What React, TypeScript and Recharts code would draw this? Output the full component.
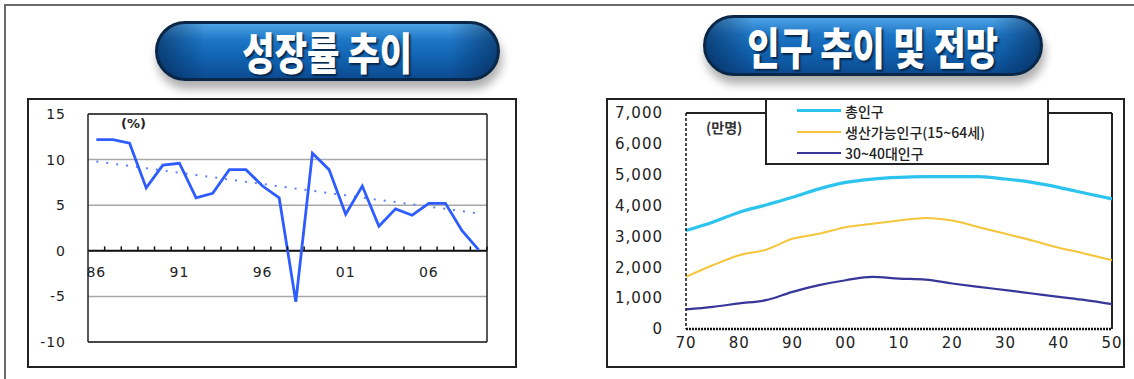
import React from "react";
import {
  LineChart,
  Line,
  XAxis,
  YAxis,
  CartesianGrid,
  ReferenceLine,
} from "recharts";

// 경제성장률 (%), 1986~2009
const growthYears = [
  "86", "87", "88", "89", "90", "91", "92", "93", "94", "95", "96", "97",
  "98", "99", "00", "01", "02", "03", "04", "05", "06", "07", "08", "09",
];
const growthRate = [
  12.2, 12.2, 11.8, 6.9, 9.4, 9.6, 5.8, 6.3, 8.9, 8.9, 7.1, 5.8,
  -5.6, 10.7, 8.9, 4.0, 7.1, 2.7, 4.6, 3.9, 5.2, 5.2, 2.2, 0.1,
];
const growthYearLabels = ["86", "91", "96", "01", "06"];
const growthTicks = [-10, -5, 0, 5, 10, 15];
// 추세선 시작/끝 값
const trendEnds = [9.8, 4.1];

// 인구 추이 및 전망 (만명), 5년 간격
const popYears = [
  1970, 1975, 1980, 1985, 1990, 1995, 2000, 2005, 2010,
  2015, 2020, 2025, 2030, 2035, 2040, 2045, 2050,
];
const totalPop = [
  3190, 3460, 3785, 4020, 4270, 4540, 4750, 4860, 4915,
  4935, 4935, 4935, 4860, 4750, 4590, 4400, 4215,
];
const workingPop = [
  1690, 2065, 2390, 2570, 2925, 3085, 3300, 3410, 3515,
  3600, 3515, 3300, 3085, 2870, 2635, 2440, 2225,
];
const prime3040Pop = [
  635, 720, 830, 935, 1205, 1420, 1580, 1690, 1635,
  1600, 1475, 1365, 1260, 1150, 1040, 935, 805,
];
const popYearTicks = [1970, 1980, 1990, 2000, 2010, 2020, 2030, 2040, 2050];
const popTicks = [0, 1000, 2000, 3000, 4000, 5000, 6000, 7000];

const popSeries = [
  { key: "total", name: "총인구", color: "#2cc3ee", width: 3.2 },
  { key: "working", name: "생산가능인구(15~64세)", color: "#f5c53c", width: 2 },
  { key: "prime", name: "30~40대인구", color: "#37379a", width: 2.2 },
];

const growthData = growthYears.map((y, i) => ({ year: y, rate: growthRate[i] }));
const popData = popYears.map((y, i) => ({
  year: y,
  total: totalPop[i],
  working: workingPop[i],
  prime: prime3040Pop[i],
}));

const tickFont = {
  fontFamily: '"DejaVu Sans", Arial, sans-serif',
  fill: "#222",
  letterSpacing: 1,
};

// left chart geometry
const G_W = 486;
const G_H = 266;
const G_MARGIN = { top: 13, right: 27, bottom: 23, left: 19 };
const G_PLOT_H = G_H - G_MARGIN.top - G_MARGIN.bottom - 1;
const G_PLOT_W = G_W - G_MARGIN.left - G_MARGIN.right - 40;
const G_BAND = G_PLOT_W / growthYears.length;

// x ticks drawn on the zero line: small marks at band edges, labels every 5 years
function GrowthYearTick(props: any) {
  const { x, y, payload } = props;
  const zeroY = y - (G_PLOT_H * 10) / 25;
  const bx = x + G_BAND / 2;
  return (
    <g>
      <line x1={bx} x2={bx} y1={zeroY - 4} y2={zeroY} stroke="#111" strokeWidth={1.5} />
      {growthYearLabels.includes(payload.value) && (
        <text
          x={x}
          y={zeroY + 27}
          textAnchor="middle"
          fontSize={14}
          {...tickFont}
        >
          {payload.value}
        </text>
      )}
    </g>
  );
}

function TitlePill({
  left,
  top,
  width,
  height,
  text,
}: {
  left: number;
  top: number;
  width: number;
  height: number;
  text: string;
}) {
  return (
    <div
      style={{
        position: "absolute",
        left,
        top,
        width,
        height,
        boxSizing: "border-box",
        borderRadius: height / 2,
        border: "3px solid #0a2748",
        background:
          "linear-gradient(90deg, rgba(2,25,60,0.5) 0%, rgba(2,25,60,0) 14%, rgba(2,25,60,0) 86%, rgba(2,25,60,0.5) 100%), linear-gradient(180deg, #4fa2e4 0%, #1d76c6 30%, #1264b2 60%, #0c4c92 100%)",
        boxShadow: "2px 8px 10px rgba(0,0,0,0.32)",
        display: "flex",
        alignItems: "center",
        justifyContent: "center",
      }}
    >
      <span
        style={{
          color: "#fff",
          fontFamily: '"Noto Sans CJK KR", sans-serif',
          fontWeight: 900,
          fontSize: 44,
          lineHeight: 1,
          whiteSpace: "nowrap",
          transform: "scaleX(0.8)",
          textShadow: "2px 2px 2px #062548",
        }}
      >
        {text}
      </span>
    </div>
  );
}

function GrowthChart() {
  const frame = { stroke: "#222", strokeWidth: 1.5 };
  return (
    <div
      style={{
        position: "absolute",
        left: 27,
        top: 98,
        width: G_W + 4,
        height: G_H + 4,
        boxSizing: "border-box",
        border: "2px solid #222",
      }}
    >
      <LineChart width={G_W} height={G_H} data={growthData} margin={G_MARGIN}>
        <CartesianGrid vertical={false} stroke="#a8a8a8" strokeWidth={1.5} />
        <XAxis
          dataKey="year"
          height={1}
          interval={0}
          padding={{ left: G_BAND / 2, right: G_BAND / 2 }}
          axisLine={frame}
          tickLine={false}
          tickSize={0}
          tickMargin={0}
          tick={<GrowthYearTick />}
        />
        {/* top edge of the plot frame */}
        <XAxis
          xAxisId="top"
          dataKey="year"
          orientation="top"
          height={1}
          axisLine={frame}
          tickLine={false}
          tick={false}
        />
        <YAxis
          width={40}
          domain={[-10, 15]}
          ticks={growthTicks}
          interval={0}
          axisLine={frame}
          tickLine={false}
          tickMargin={16}
          tick={{ ...tickFont, fontSize: 14 }}
        />
        {/* right edge of the plot frame */}
        <YAxis
          yAxisId="right"
          orientation="right"
          width={1}
          domain={[-10, 15]}
          axisLine={frame}
          tickLine={false}
          tick={false}
        />
        <ReferenceLine y={0} stroke="#111" strokeWidth={2} />
        <ReferenceLine
          segment={[
            { x: growthYears[0], y: trendEnds[0] },
            { x: growthYears[growthYears.length - 1], y: trendEnds[1] },
          ]}
          stroke="#5b7fff"
          strokeWidth={2}
          strokeDasharray="2 8"
        />
        <Line
          type="linear"
          dataKey="rate"
          stroke="#2d5cff"
          strokeWidth={2.8}
          dot={false}
          isAnimationActive={false}
        />
      </LineChart>
      <div
        style={{
          position: "absolute",
          left: 92,
          top: 16,
          fontFamily: '"DejaVu Sans", sans-serif',
          fontSize: 13,
          fontWeight: 700,
          color: "#222",
        }}
      >
        (%)
      </div>
    </div>
  );
}

function PopulationChart() {
  return (
    <div
      style={{
        position: "absolute",
        left: 606,
        top: 98,
        width: 519,
        height: 270,
        boxSizing: "border-box",
        border: "2px solid #222",
      }}
    >
      <LineChart
        width={515}
        height={266}
        data={popData}
        margin={{ top: 13, right: 11, bottom: 9, left: 0 }}
      >
        <XAxis
          dataKey="year"
          type="number"
          domain={[1970, 2050]}
          ticks={popYearTicks}
          interval={0}
          height={28}
          tickLine={false}
          axisLine={{ stroke: "#111", strokeWidth: 2.5, strokeDasharray: "2 1" }}
          tickFormatter={(v: number) => String(v % 100).padStart(2, "0")}
          tick={{ ...tickFont, fontSize: 15 }}
        />
        <YAxis
          width={78}
          domain={[0, 7000]}
          ticks={popTicks}
          interval={0}
          tickLine={false}
          axisLine={{ stroke: "#111", strokeWidth: 1.5, strokeDasharray: "3 2" }}
          tickMargin={17}
          tickFormatter={(v: number) => v.toLocaleString("en-US")}
          tick={{ ...tickFont, fontSize: 15 }}
        />
        <ReferenceLine y={7000} stroke="#222" strokeWidth={2} />
        <ReferenceLine x={2050} stroke="#222" strokeWidth={2} />
        {popSeries.map((s) => (
          <Line
            key={s.key}
            type="monotone"
            dataKey={s.key}
            name={s.name}
            stroke={s.color}
            strokeWidth={s.width}
            dot={false}
            isAnimationActive={false}
          />
        ))}
      </LineChart>
      <div
        style={{
          position: "absolute",
          left: 98,
          top: 17,
          fontFamily: '"Noto Sans CJK KR", sans-serif',
          fontSize: 14,
          fontWeight: 700,
          color: "#333",
        }}
      >
        (만명)
      </div>
      <div
        style={{
          position: "absolute",
          left: 157,
          top: -2,
          width: 284,
          height: 67,
          boxSizing: "border-box",
          border: "2px solid #222",
          background: "#fff",
        }}
      >
        {popSeries.map((s) => (
          <div
            key={s.key}
            style={{ display: "flex", alignItems: "center", height: 21 }}
          >
            <div
              style={{
                marginLeft: 30,
                width: 44,
                height: Math.round(s.width),
                background: s.color,
              }}
            />
            <span
              style={{
                marginLeft: 4,
                fontFamily: '"Noto Sans CJK KR", sans-serif',
                fontSize: 14,
                fontWeight: 500,
                color: "#222",
              }}
            >
              {s.name}
            </span>
          </div>
        ))}
      </div>
    </div>
  );
}

export default function App() {
  return (
    <div
      style={{
        position: "absolute",
        left: 0,
        top: 0,
        width: 1134,
        height: 379,
        background: "#fff",
        overflow: "hidden",
      }}
    >
      <div style={{ position: "absolute", left: 4, top: 4, width: 1130, height: 2, background: "#6a6a6a" }} />
      <div style={{ position: "absolute", left: 4, top: 4, width: 2, height: 375, background: "#6a6a6a" }} />
      <TitlePill left={155} top={21} width={345} height={60} text="성장률 추이" />
      <TitlePill left={703} top={15} width={340} height={61} text="인구 추이 및 전망" />
      <GrowthChart />
      <PopulationChart />
    </div>
  );
}
